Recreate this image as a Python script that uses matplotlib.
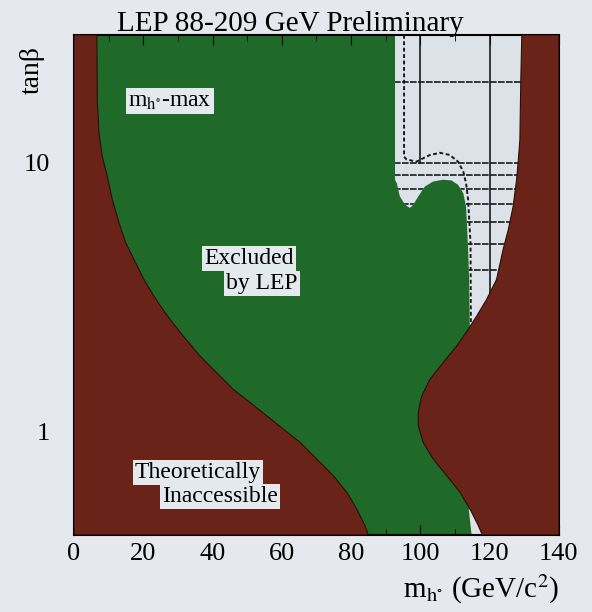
import matplotlib
matplotlib.use("Agg")
import matplotlib.pyplot as plt
from matplotlib.patches import Polygon
from matplotlib.ticker import FixedLocator, NullFormatter, MultipleLocator

plt.rcParams['font.family'] = ['Liberation Serif', 'DejaVu Serif']
plt.rcParams['mathtext.fontset'] = 'stix'

# axis ranges
x_min, x_max = 0, 140
tb_min, tb_max = 0.41, 30

# theoretically inaccessible, left side (boundary curve, top to bottom)
left_x = [6.6, 6.73, 7.22, 8.17, 9.61, 11.06, 12.99, 14.92, 17.32, 20.21, 23.09, 25.6, 27.71,
          31.55, 36.37, 41.19, 45.99, 50.81, 55.63, 60.42, 65.24, 70.06, 74.86, 78.73, 81.61, 84.0, 85.0]
left_tb = [30, 17.1, 12.9, 10.55, 8.9, 7.29, 5.98, 5.04, 4.36, 3.67, 3.18, 2.85, 2.61,
           2.26, 1.905, 1.65, 1.43, 1.278, 1.14, 1.017, 0.908, 0.787, 0.682, 0.592, 0.513, 0.445, 0.41]

# theoretically inaccessible, right side (boundary curve, top to bottom)
right_x = [129.3, 129.0, 128.75, 128.3, 127.8, 126.8, 125.4, 123.9, 122.0, 119.1, 116.25, 113.8, 110.5,
           106.6, 102.8, 100.4, 99.4, 99.4, 100.8, 103.7, 107.6, 111.4, 114.3, 116.7, 117.9]
right_tb = [30, 20, 12.2, 10.26, 8.65, 6.88, 5.63, 4.75, 3.67, 3.09, 2.68, 2.39, 2.075,
            1.80, 1.56, 1.35, 1.17, 1.046, 0.908, 0.787, 0.682, 0.592, 0.513, 0.445, 0.41]

# edge of the LEP excluded region (allowed region to the right)
excl_x = [92.7, 92.7, 93.2, 94.1, 95.6, 97.0, 97.95, 99.4, 101.3, 103.7, 106.6, 109.0, 110.9,
          112.4, 113.2, 113.5, 113.8, 114.1, 114.3]
excl_tb = [30, 8.65, 8.40, 7.49, 6.98, 6.79, 6.98, 7.49, 8.16, 8.52, 8.65, 8.60, 8.28,
           7.71, 6.88, 5.80, 4.75, 3.67, 2.45]

# small allowed gap at low tanb
gap_x = [114.0, 114.8]
gap_tb = [0.51, 0.41]

# expected limit (dashed)
exp_x = [95.3, 95.3, 96.0, 98.9, 100.8, 102.8, 105.7, 108.5, 110.9, 112.4, 113.2, 113.8, 114.5, 114.6]
exp_tb = [30, 10.55, 10.3, 10.1, 10.4, 10.7, 10.9, 10.7, 10.1, 9.28, 8.40, 7.29, 5.0, 2.4]

# scan grid drawn in the allowed region
grid_tb = [20, 10, 9, 8, 7, 6, 5, 4]
grid_x = [100, 120]
grid_x_from = [10, 0.41]

xticks = [0, 20, 40, 60, 80, 100, 120, 140]
yticks = [1, 10]

green = '#1f6a29'
brown = '#6a2318'
pale = '#dde2e8'
paper = '#e5e8ec'

fig = plt.figure(figsize=(5.92, 6.12), dpi=100, facecolor=paper)
ax = fig.add_axes([0.125, 0.126, 0.819, 0.817])
ax.set_facecolor(green)
ax.set_xlim(x_min, x_max)
ax.set_yscale('log')
ax.set_ylim(tb_min, tb_max)

# allowed region (white), brown is laid on top later
allowed_pts = list(zip(excl_x, excl_tb)) + [(136, excl_tb[-1]), (136, tb_max)]
allowed = Polygon(allowed_pts, closed=True, facecolor=pale, edgecolor='none', zorder=1)
ax.add_patch(allowed)
gap_pts = list(zip(gap_x, gap_tb)) + [(125, gap_tb[-1]), (125, gap_tb[0])]
ax.add_patch(Polygon(gap_pts, closed=True, facecolor=pale, edgecolor='none', zorder=1))

# grid lines and expected limit, only inside the allowed region
for t in grid_tb:
    ln, = ax.plot([90, 136], [t, t], color='#1a1a1a', lw=1.2, ls=(0, (4, 0.8)), zorder=2)
    ln.set_clip_path(allowed)
for gx, g0 in zip(grid_x, grid_x_from):
    ln, = ax.plot([gx, gx], [g0, tb_max], color='#1a1a1a', lw=1.2, zorder=2)
    ln.set_clip_path(allowed)
ln, = ax.plot(exp_x, exp_tb, color='#1a1a1a', lw=1.4, ls=(0, (2, 1.3)), zorder=2)
ln.set_clip_path(allowed)

# theoretically inaccessible regions
left_pts = [(x_min, tb_max)] + list(zip(left_x, left_tb)) + [(x_min, tb_min)]
ax.add_patch(Polygon(left_pts, closed=True, facecolor=brown, edgecolor='#2a0d08', lw=0.8, zorder=3))
right_pts = [(x_max, tb_max)] + list(zip(right_x, right_tb)) + [(x_max, tb_min)]
ax.add_patch(Polygon(right_pts, closed=True, facecolor=brown, edgecolor='#2a0d08', lw=0.8, zorder=3))

# region labels
box = dict(facecolor='#e4e9ed', edgecolor='none', pad=1.5)
ax.text(27.7, 17.0, r'm$_{\mathrm{h}^{\circ}}$-max', fontsize=17, ha='center', va='center', bbox=box, zorder=5)
ax.text(50.5, 4.4, 'Excluded', fontsize=17, ha='center', va='center', bbox=box, zorder=5)
ax.text(54.3, 3.55, 'by LEP', fontsize=17, ha='center', va='center', bbox=box, zorder=5)
ax.text(35.8, 0.70, 'Theoretically', fontsize=17, ha='center', va='center', bbox=box, zorder=5)
ax.text(42.1, 0.57, 'Inaccessible', fontsize=17, ha='center', va='center', bbox=box, zorder=5)

# ticks
ax.xaxis.set_major_locator(FixedLocator(xticks))
ax.xaxis.set_minor_locator(MultipleLocator(10))
ax.yaxis.set_major_locator(FixedLocator(yticks))
ax.yaxis.set_major_formatter(plt.FuncFormatter(lambda v, p: '%d' % v))
ax.yaxis.set_minor_formatter(NullFormatter())
ax.tick_params(which='both', direction='in', top=True, right=True, colors='black')
ax.tick_params(axis='x', which='major', labelsize=19, length=7, pad=6)
ax.tick_params(axis='y', which='major', labelsize=19, length=7, pad=17)
ax.tick_params(which='minor', length=4)
for s in ax.spines.values():
    s.set_linewidth(1.5)

fig.text(0.49, 0.949, 'LEP 88-209 GeV Preliminary', fontsize=21, ha='center', va='baseline')
fig.text(0.055, 0.885, 'tanβ', fontsize=20, rotation=90, ha='center', va='center')
fig.text(0.945, 0.024, r'm$_{\mathrm{h}^{\circ}}$ (GeV/c$^2$)', fontsize=21, ha='right', va='baseline')

fig.savefig('out.png', dpi=100, facecolor=paper)
